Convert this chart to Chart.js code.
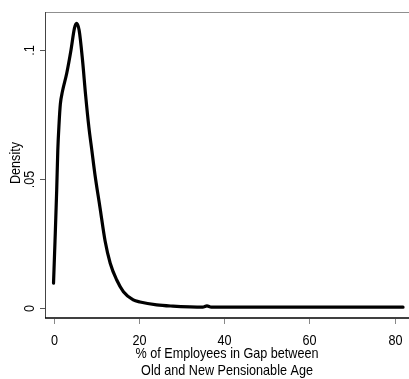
<!DOCTYPE html>
<html>
<head>
<meta charset="utf-8">
<script src="https://cdn.jsdelivr.net/npm/chart.js@4/dist/chart.umd.min.js"></script>
<style>
  html, body { margin: 0; padding: 0; background: #fff; }
  canvas { display: block; }
</style>
</head>
<body>
<canvas id="densityChart" width="409" height="379"></canvas>
<script>
// ------------------------------------------------------------
// Data: kernel density of % of employees in the pension-age gap
// ------------------------------------------------------------
const gapPct = [0, 0.35, 0.75, 1.0, 1.3, 1.6, 2.1, 3.1, 4.1, 4.9, 5.4, 6.0, 6.8, 7.5, 8.3, 9.0, 9.7, 10.9, 12.1, 13.3, 14.8, 16.4, 18.7, 20.3, 24.2, 28, 32, 35, 36, 37, 45, 60, 82];
const density = [0.0097, 0.026, 0.046, 0.061, 0.0715, 0.079, 0.084, 0.091, 0.100, 0.1084, 0.1103, 0.1077, 0.0961, 0.083, 0.070, 0.061, 0.052, 0.039, 0.026, 0.0174, 0.011, 0.0064, 0.0032, 0.0024, 0.0013, 0.0008, 0.0005, 0.0004, 0.0009, 0.0004, 0.0004, 0.0004, 0.0004];

const xTicks = [0, 20, 40, 60, 80];
const yTicks = [0, 0.05, 0.1];
const yTickLabels = ['0', '.05', '.1'];
const yTitle = 'Density';
const xTitle = ['% of Employees in Gap between', 'Old and New Pensionable Age'];

const FONT = '14.5px "Liberation Sans", Arial, sans-serif';
const SQUEEZE = 0.87; // Stata export text looks horizontally narrowed

function drawText(ctx, str, x, y, rot, align, baseline) {
  ctx.save();
  ctx.translate(x, y);
  ctx.rotate(rot);
  ctx.scale(SQUEEZE, 1);
  ctx.font = FONT;
  ctx.fillStyle = '#000';
  ctx.textAlign = align;
  ctx.textBaseline = baseline;
  ctx.fillText(str, 0, 0);
  ctx.restore();
}

// Stata-like frame, ticks and labels drawn from the chart's own scales
const stataAxes = {
  id: 'stataAxes',
  beforeDraw(chart) {
    const { ctx, width, height } = chart;
    ctx.save();
    ctx.fillStyle = '#fff';
    ctx.fillRect(0, 0, width, height);
    ctx.restore();
  },
  beforeDatasetsDraw(chart) {
    const { ctx, chartArea: a, scales: { x, y } } = chart;
    ctx.save();
    // top outline
    ctx.strokeStyle = '#8f8f8f';
    ctx.lineWidth = 1;
    ctx.beginPath();
    ctx.moveTo(a.left, a.top + 0.5);
    ctx.lineTo(a.right, a.top + 0.5);
    ctx.stroke();
    // left axis
    ctx.strokeStyle = '#444';
    ctx.beginPath();
    ctx.moveTo(a.left + 0.5, a.top);
    ctx.lineTo(a.left + 0.5, a.bottom);
    ctx.stroke();
    // bottom axis
    ctx.strokeStyle = '#000';
    ctx.lineWidth = 1.5;
    ctx.beginPath();
    ctx.moveTo(a.left, a.bottom);
    ctx.lineTo(a.right, a.bottom);
    ctx.stroke();

    // y ticks + rotated labels
    ctx.strokeStyle = '#555';
    ctx.lineWidth = 1;
    yTicks.forEach((v, i) => {
      const py = Math.round(y.getPixelForValue(v)) + 0.5;
      ctx.beginPath();
      ctx.moveTo(a.left - 5, py);
      ctx.lineTo(a.left, py);
      ctx.stroke();
      drawText(ctx, yTickLabels[i], 30, py, -Math.PI / 2, 'center', 'middle');
    });

    // x ticks + labels
    ctx.strokeStyle = '#888';
    xTicks.forEach(v => {
      const px = Math.round(x.getPixelForValue(v)) + 0.5;
      ctx.beginPath();
      ctx.moveTo(px, a.bottom + 1);
      ctx.lineTo(px, a.bottom + 6);
      ctx.stroke();
      drawText(ctx, String(v), px, 345, 0, 'center', 'alphabetic');
    });

    // axis titles
    const midX = (a.left + a.right) / 2;
    drawText(ctx, xTitle[0], midX, 358, 0, 'center', 'alphabetic');
    drawText(ctx, xTitle[1], midX, 375, 0, 'center', 'alphabetic');
    drawText(ctx, yTitle, 16, (a.top + a.bottom) / 2 - 2, -Math.PI / 2, 'center', 'middle');
    ctx.restore();
  },
};

new Chart(document.getElementById('densityChart'), {
  type: 'line',
  data: {
    datasets: [{
      data: gapPct.map((g, i) => ({ x: g, y: density[i] })),
      borderColor: '#000',
      borderWidth: 3.2,
      pointRadius: 0,
      fill: false,
      cubicInterpolationMode: 'monotone',
      borderCapStyle: 'round',
      borderJoinStyle: 'round',
    }],
  },
  options: {
    responsive: false,
    animation: false,
    devicePixelRatio: 1,
    layout: { padding: { left: 45, top: 12, right: 0, bottom: 61 } },
    plugins: { legend: { display: false }, tooltip: { enabled: false } },
    scales: {
      x: { type: 'linear', min: -2, max: 83.4, display: false },
      y: { min: -0.0038, max: 0.1147, display: false },
    },
  },
  plugins: [stataAxes],
});
</script>
</body>
</html>
